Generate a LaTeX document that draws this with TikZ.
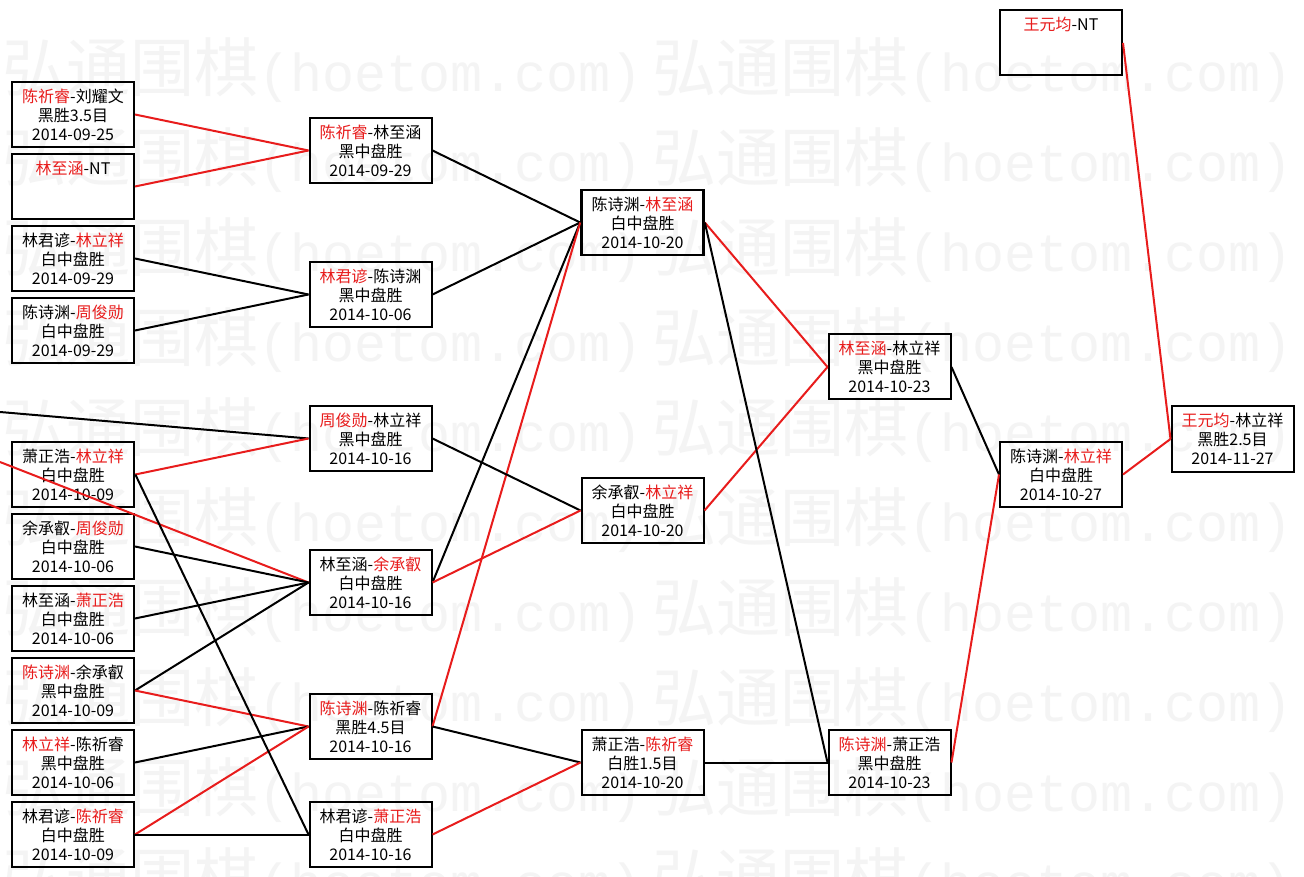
\documentclass[tikz,border=0pt]{standalone}
\usepackage{fontspec}
\setmainfont{Noto Sans CJK SC}
\newfontfamily\wmmono{Liberation Mono}
\newfontfamily\wmcjk{Noto Sans CJK SC}
\definecolor{wmgray}{gray}{0.955}
\definecolor{winred}{RGB}{232,28,28}
\newcommand\rn[1]{\textcolor{winred}{#1}}
\newcommand\wmtext{{\wmcjk\fontsize{48pt}{48pt}\selectfont 弘通围棋}{\wmmono\fontsize{40pt}{40pt}\selectfont (hoetom.com)}}
\begin{document}
\begin{tikzpicture}[x=0.75pt,y=-0.75pt,
  game/.style={draw=black, line width=1.5pt, minimum width=91.5pt, minimum height=48.75pt,
    inner sep=0pt, align=center, font=\fontsize{12pt}{14.25pt}\selectfont},
  bold game/.style={game, line width=2pt},
  winline/.style={draw=winred, line width=1.5pt},
  lossline/.style={draw=black, line width=1.5pt},
  wm/.style={anchor=west, inner sep=0pt, text=wmgray}]
\useasboundingbox (0,0) rectangle (1304,877);
\fill[white] (0,0) rectangle (1304,877);
% watermark
\foreach \r in {0,...,9}{
  \foreach \c in {0,650}{
    \node[wm] (wm-\r-\c) at (\c+2, 70+90*\r) {\wmtext};
  }
}
% column 1
\node[game] (A1) at (73,114.5) {\rn{陈祈睿}-刘耀文\\黑胜3.5目\\2014-09-25};
\node[game] (A2) at (73,186.5) {\rn{林至涵}-NT\\\phantom{黑中盘胜}\\\phantom{2014-09-25}};
\node[game] (A3) at (73,258.5) {林君谚-\rn{林立祥}\\白中盘胜\\2014-09-29};
\node[game] (A4) at (73,330.5) {陈诗渊-\rn{周俊勋}\\白中盘胜\\2014-09-29};
\node[bold game] (A5) at (73,474.5) {萧正浩-\rn{林立祥}\\白中盘胜\\2014-10-09};
\node[game] (A6) at (73,546.5) {余承叡-\rn{周俊勋}\\白中盘胜\\2014-10-06};
\node[game] (A7) at (73,618.5) {林至涵-\rn{萧正浩}\\白中盘胜\\2014-10-06};
\node[game] (A8) at (73,690.5) {\rn{陈诗渊}-余承叡\\黑中盘胜\\2014-10-09};
\node[game] (A9) at (73,762.5) {\rn{林立祥}-陈祈睿\\黑中盘胜\\2014-10-06};
\node[game] (A10) at (73,834.5) {林君谚-\rn{陈祈睿}\\白中盘胜\\2014-10-09};
% column 2
\node[game] (B1) at (370.5,150.5) {\rn{陈祈睿}-林至涵\\黑中盘胜\\2014-09-29};
\node[game] (B2) at (370.5,294.5) {\rn{林君谚}-陈诗渊\\黑中盘胜\\2014-10-06};
\node[game] (B3) at (370.5,438.5) {\rn{周俊勋}-林立祥\\黑中盘胜\\2014-10-16};
\node[game] (B4) at (370.5,582.5) {林至涵-\rn{余承叡}\\白中盘胜\\2014-10-16};
\node[game] (B5) at (370.5,726.5) {\rn{陈诗渊}-陈祈睿\\黑胜4.5目\\2014-10-16};
\node[game] (B6) at (370.5,834.5) {林君谚-\rn{萧正浩}\\白中盘胜\\2014-10-16};
% column 3
\node[bold game] (C1) at (642.5,222.5) {陈诗渊-\rn{林至涵}\\白中盘胜\\2014-10-20};
\node[game] (C2) at (642.5,510.5) {余承叡-\rn{林立祥}\\白中盘胜\\2014-10-20};
\node[game] (C3) at (642.5,762.5) {萧正浩-\rn{陈祈睿}\\白胜1.5目\\2014-10-20};
% column 4
\node[game] (D1) at (889.5,367) {\rn{林至涵}-林立祥\\黑中盘胜\\2014-10-23};
\node[game] (D2) at (889.5,762.5) {\rn{陈诗渊}-萧正浩\\黑中盘胜\\2014-10-23};
% column 5
\node[game] (E0) at (1061,43) {\rn{王元均}-NT\\\phantom{黑中盘胜}\\\phantom{2014-09-25}};
\node[game] (E1) at (1061,474.5) {陈诗渊-\rn{林立祥}\\白中盘胜\\2014-10-27};
% column 6
\node[game] (F1) at (1232.5,439) {\rn{王元均}-林立祥\\黑胜2.5目\\2014-11-27};
% off-picture sources
\coordinate (offA) at (0,412);
\coordinate (offB) at (0,462);
% connectors
\draw[winline] (A1.east) -- (B1.west);
\draw[winline] (A2.east) -- (B1.west);
\draw[lossline] (A3.east) -- (B2.west);
\draw[lossline] (A4.east) -- (B2.west);
\draw[lossline] (offA) -- (B3.west);
\draw[winline] (A5.east) -- (B3.west);
\draw[winline] (offB) -- (B4.west);
\draw[lossline] (A6.east) -- (B4.west);
\draw[lossline] (A7.east) -- (B4.west);
\draw[lossline] (A8.east) -- (B4.west);
\draw[winline] (A8.east) -- (B5.west);
\draw[lossline] (A9.east) -- (B5.west);
\draw[winline] (A10.east) -- (B5.west);
\draw[lossline] (A5.east) -- (B6.west);
\draw[lossline] (A10.east) -- (B6.west);
\draw[lossline] (B1.east) -- (C1.west);
\draw[lossline] (B2.east) -- (C1.west);
\draw[lossline] (B4.east) -- (C1.west);
\draw[winline] (B5.east) -- (C1.west);
\draw[lossline] (B3.east) -- (C2.west);
\draw[winline] (B4.east) -- (C2.west);
\draw[lossline] (B5.east) -- (C3.west);
\draw[winline] (B6.east) -- (C3.west);
\draw[winline] (C1.east) -- (D1.west);
\draw[winline] (C2.east) -- (D1.west);
\draw[lossline] (C1.east) -- (D2.west);
\draw[lossline] (C3.east) -- (D2.west);
\draw[lossline] (D1.east) -- (E1.west);
\draw[winline] (D2.east) -- (E1.west);
\draw[winline] (E0.east) -- (F1.west);
\draw[winline] (E1.east) -- (F1.west);
\end{tikzpicture}
\end{document}
